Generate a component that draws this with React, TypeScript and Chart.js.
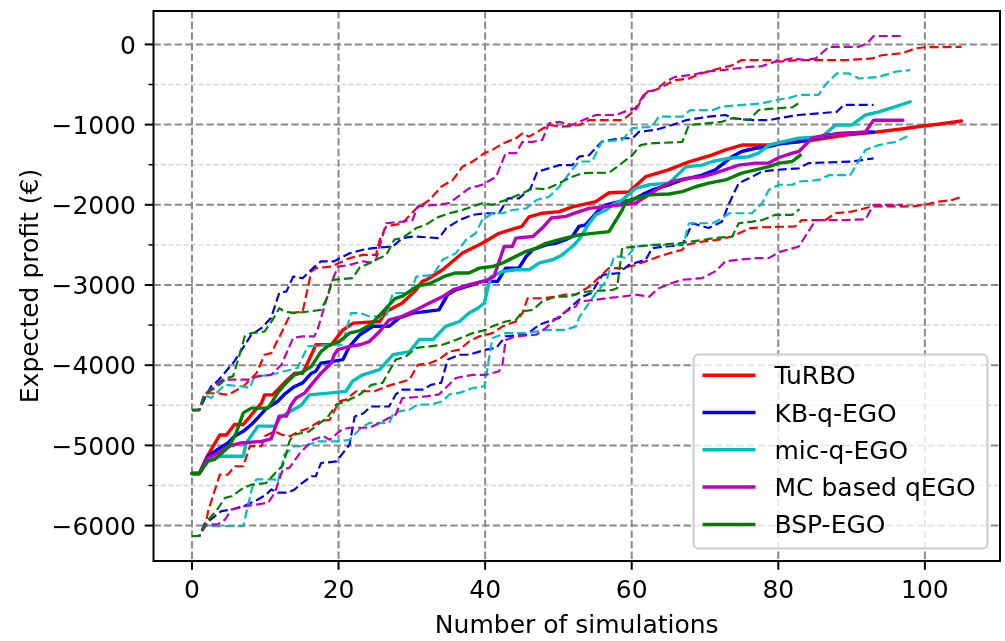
import React, { useEffect, useRef } from "react";
import { Chart, registerables } from "chart.js";

Chart.register(...registerables);

type P = [number, number];

// ---- axis ticks / labels ----
const xTicks: number[] = [0, 20, 40, 60, 80, 100];
const yTicks: number[] = [-6000, -5000, -4000, -3000, -2000, -1000, 0];
const yMinorTicks: number[] = [-5500, -4500, -3500, -2500, -1500, -500];
const xTitle = "Number of simulations";
const yTitle = "Expected profit (€)";
const methods: string[] = ["TuRBO", "KB-q-EGO", "mic-q-EGO", "MC based qEGO", "BSP-EGO"];
const colors: string[] = ["#ff0000", "#0000ff", "#00bfbf", "#bf00bf", "#008000"];

// ---- TuRBO ----
const turboMean: P[] = [[0,-5350],[1,-5350],[2,-5150],[3.8,-4870],[4.7,-4870],[5.8,-4740],[7,-4740],[8.5,-4575],[9.5,-4470],[9.9,-4370],[11,-4370],[12.6,-4220],[14,-4100],[15.1,-4100],[16.5,-3830],[16.9,-3745],[19,-3745],[19.4,-3700],[20.6,-3560],[22,-3475],[25.6,-3455],[26.5,-3330],[28.7,-3225],[30.6,-3060],[31.4,-2955],[32,-2935],[34.2,-2810],[36.9,-2600],[39.6,-2480],[41.9,-2355],[43.3,-2315],[45,-2270],[46,-2150],[47.8,-2105],[50.1,-2085],[51.9,-2025],[55.1,-1960],[56.9,-1850],[59.6,-1840],[61.9,-1650],[65,-1565],[67.8,-1465],[70.9,-1380],[72.8,-1315],[75,-1255],[78.7,-1255],[81.4,-1220],[84.6,-1195],[89.2,-1130],[92.7,-1100],[96.8,-1055],[99.5,-1020],[101.8,-995],[105,-955]];
const turboUpper: P[] = [[0,-4560],[1,-4560],[1.7,-4350],[3.5,-4350],[4.9,-4370],[7,-4265],[8.8,-4100],[9.9,-3870],[10.8,-3850],[12.4,-3560],[13.5,-3350],[15.1,-3330],[16.3,-2830],[16.9,-2790],[19,-2770],[21.5,-2665],[23.3,-2625],[25.1,-2625],[25.6,-2440],[26.5,-2270],[28.7,-2230],[30.6,-2045],[32.4,-1940],[34,-1775],[35.6,-1690],[36.9,-1525],[38.3,-1460],[39.9,-1355],[41,-1315],[42.4,-1235],[44.2,-1170],[45.1,-1110],[46,-1150],[47.6,-1065],[48.7,-1005],[50.5,-1025],[52.8,-1005],[54.2,-945],[58.7,-945],[60.5,-820],[61.9,-610],[63.7,-550],[65.9,-445],[67.8,-425],[69.6,-360],[71.9,-300],[73.7,-260],[75,-195],[79.6,-195],[80.1,-215],[82.8,-195],[89.2,-195],[92.8,-175],[94.1,-135],[96.9,-110],[98.7,-50],[100,-35],[105,-30]];
const turboLower: P[] = [[0,-6130],[1,-6130],[2,-5925],[2.2,-5820],[3.8,-5365],[4.9,-5365],[5.8,-5260],[7,-5260],[7.9,-5010],[9.5,-5010],[9.9,-4885],[11.3,-4825],[12.2,-4865],[13.4,-4885],[14.5,-4830],[16,-4780],[17.4,-4700],[18.8,-4680],[20.1,-4450],[21,-4430],[22.4,-4325],[24.9,-4325],[26.5,-4265],[29.7,-4180],[30.8,-3995],[32.4,-3975],[33.7,-3930],[35.1,-3830],[36.5,-3805],[37.8,-3705],[39.2,-3640],[41,-3600],[42.4,-3515],[44.2,-3455],[45.1,-3350],[45.8,-3165],[47.8,-3165],[49.6,-3145],[51,-3120],[52.4,-3120],[54.2,-3020],[56.9,-2790],[58.7,-2790],[60.5,-2750],[61.9,-2705],[63.7,-2645],[65.1,-2605],[66.9,-2560],[67.4,-2500],[69.6,-2460],[71.9,-2435],[73.7,-2395],[76.2,-2290],[77.8,-2280],[82.3,-2270],[83.2,-2190],[86.4,-2190],[87.8,-2105],[90,-2085],[92.8,-2020],[98.2,-2020],[100,-2000],[101.9,-1960],[103.7,-1940],[105,-1900]];

// ---- KB-q-EGO ----
const kbMean: P[] = [[0,-5350],[1,-5350],[2.2,-5135],[3.5,-5050],[4.9,-4970],[5.8,-4885],[7,-4825],[8.1,-4740],[9,-4655],[10.1,-4545],[11.7,-4450],[12.6,-4365],[14,-4265],[15.1,-4220],[16.3,-4100],[16.9,-4075],[17.6,-3975],[19.4,-3950],[20.6,-3930],[21.5,-3765],[22.9,-3620],[24.7,-3515],[26.9,-3515],[28.3,-3410],[30.1,-3350],[33.7,-3310],[34.9,-3120],[36,-3060],[38.3,-2995],[39.6,-2955],[41.7,-2955],[42.8,-2790],[44.6,-2790],[45.6,-2645],[46.5,-2560],[48.3,-2500],[49.6,-2480],[51,-2435],[51.9,-2395],[52.8,-2270],[53.7,-2250],[55.5,-2065],[56.5,-2000],[58.3,-1960],[60.1,-1940],[61.5,-1870],[62.8,-1815],[65.1,-1750],[66.9,-1690],[69.6,-1630],[71.4,-1565],[73.7,-1400],[75,-1335],[76.9,-1295],[78.7,-1275],[80.5,-1235],[82.8,-1215],[88.2,-1110],[91,-1100],[93,-1090]];
const kbUpper: P[] = [[0,-4560],[1,-4560],[2,-4365],[2.6,-4265],[3.5,-4200],[5.8,-3950],[6.5,-3850],[8.1,-3620],[9.5,-3535],[10.8,-3410],[11.9,-3100],[12.9,-3080],[13.8,-2895],[15.1,-2915],[16.5,-2790],[17.6,-2705],[19.4,-2705],[21.5,-2605],[23.3,-2560],[24.7,-2540],[27.4,-2520],[28.7,-2415],[30.3,-2395],[33.7,-2415],[34.7,-2290],[36.5,-2190],[38.3,-2125],[40.1,-2105],[41.9,-2105],[43.1,-1920],[44.6,-1920],[46.2,-1795],[47.1,-1590],[50.1,-1505],[51.9,-1505],[52.8,-1400],[54.2,-1380],[55.9,-1215],[58.3,-1170],[60.1,-1170],[61,-1090],[63.3,-1065],[65.5,-1005],[67.4,-945],[70.5,-900],[72.8,-880],[73.7,-920],[76.9,-945],[78.7,-945],[80.1,-920],[82.8,-880],[85.5,-860],[88,-840],[88.9,-755],[93,-755]];
const kbLower: P[] = [[0,-6130],[1,-6130],[1.7,-5985],[3.1,-5885],[4,-5820],[5.4,-5800],[7,-5760],[9,-5675],[10.1,-5615],[10.8,-5550],[11.7,-5590],[13.1,-5590],[14,-5550],[15.1,-5465],[16.3,-5385],[16.9,-5385],[17.6,-5220],[19.7,-5200],[21.5,-4990],[22.2,-4640],[23.4,-4600],[24.4,-4515],[26.9,-4515],[27.8,-4365],[28.7,-4305],[31.5,-4305],[32.6,-4245],[34,-4220],[34.9,-3930],[36.5,-3870],[37.8,-3870],[40.1,-3805],[41.5,-3785],[42.8,-3640],[45.6,-3620],[47.4,-3495],[49.2,-3435],[50.1,-3410],[51.5,-3290],[53.3,-3145],[54.5,-3100],[56,-2875],[58.3,-2850],[59.6,-2750],[61.9,-2685],[62.8,-2540],[64.6,-2520],[66.9,-2500],[68.3,-2230],[70.5,-2290],[72.3,-2210],[73.3,-1980],[74.6,-1730],[76,-1670],[77.8,-1585],[79.6,-1565],[82.8,-1545],[84.1,-1480],[90,-1460],[93,-1420]];

// ---- mic-q-EGO ----
const micMean: P[] = [[0,-5350],[1,-5350],[2.2,-5175],[4,-5135],[7,-5135],[7.4,-4970],[9,-4760],[11.3,-4760],[12.2,-4640],[14.9,-4500],[16,-4370],[19,-4345],[21,-4325],[21.9,-4200],[23.3,-4120],[25.6,-4055],[27.4,-3870],[29.7,-3830],[31,-3680],[32.9,-3680],[34.6,-3515],[36.5,-3455],[37.8,-3350],[39,-3290],[39.9,-3225],[40.3,-3060],[40.8,-2900],[42.4,-2830],[44.2,-2810],[46,-2810],[47.4,-2725],[49.2,-2685],[50.5,-2625],[51.9,-2520],[52.8,-2435],[54.2,-2230],[55.1,-2125],[56.5,-2065],[57.4,-2000],[58.7,-1940],[60.5,-1795],[62.4,-1750],[65.1,-1730],[67.4,-1525],[69.6,-1505],[71,-1460],[73.3,-1420],[76,-1400],[77.3,-1355],[78.7,-1255],[80.5,-1215],[82.8,-1170],[86,-1150],[87.8,-1005],[90,-1005],[91.9,-880],[93.7,-840],[96,-775],[98,-715]];
const micUpper: P[] = [[0,-4560],[1,-4560],[1.7,-4365],[2.6,-4410],[4.5,-4245],[7,-4265],[7.9,-4285],[8.5,-4140],[10.8,-4120],[12.6,-4075],[14.4,-4035],[15.8,-3765],[19,-3745],[20.5,-3745],[21.7,-3350],[22.9,-3350],[24.2,-3390],[26.5,-3390],[27.4,-3100],[29.8,-3100],[30.6,-2895],[32.9,-2875],[34.2,-2685],[36,-2605],[37.4,-2435],[38.7,-2355],[39.6,-2190],[41,-2105],[42.4,-2105],[43.7,-2065],[45.6,-2045],[47,-1940],[48.7,-1900],[50.1,-1775],[51.5,-1605],[52.8,-1460],[54.6,-1460],[55.9,-1215],[58.7,-1190],[60.1,-1045],[62.8,-1025],[63.7,-900],[66.9,-900],[68,-820],[71,-820],[72.3,-775],[75,-755],[77.8,-735],[79.6,-695],[81.4,-670],[82.8,-630],[85.5,-630],[86.4,-505],[88,-360],[89.6,-360],[91,-425],[93.7,-405],[96,-340],[98,-320]];
const micLower: P[] = [[0,-6130],[1,-6130],[1.7,-6005],[7,-6005],[8.3,-5490],[8.8,-5425],[11.3,-5425],[11.7,-5465],[12.6,-5115],[14,-5010],[15.4,-5010],[17.2,-4950],[19.9,-4950],[21.5,-4930],[22.9,-4800],[24.2,-4720],[26.9,-4720],[27.4,-4615],[28.3,-4575],[29.7,-4555],[30.8,-4490],[32.6,-4490],[34.2,-4450],[35.1,-4365],[36.5,-4345],[38.3,-4285],[39.9,-4265],[41,-3660],[42.8,-3600],[45.6,-3600],[48.3,-3560],[51,-3560],[52.4,-3515],[52.8,-3410],[55.1,-3100],[56.5,-2955],[57.6,-2645],[58.3,-2645],[59.2,-2665],[60.5,-2520],[62.8,-2500],[65.9,-2500],[67.1,-2480],[67.8,-2230],[71,-2230],[71.9,-2190],[73.3,-2105],[76.4,-2105],[77.8,-1980],[78.7,-1815],[79.1,-1795],[80.1,-1750],[81.9,-1750],[82.8,-1710],[85.5,-1690],[86.9,-1630],[89.8,-1630],[91.9,-1315],[93.7,-1255],[96,-1215],[98,-1130]];

// ---- MC based qEGO ----
const mcMean: P[] = [[0,-5350],[1,-5350],[2.2,-5155],[3.5,-5095],[5.1,-5010],[6.7,-4970],[9.5,-4950],[10.8,-4920],[11.9,-4635],[12.9,-4635],[13.5,-4500],[14.2,-4410],[15.4,-4345],[16.5,-4220],[17.6,-4100],[19,-3975],[19.4,-3870],[19.9,-3805],[21.5,-3765],[22.9,-3745],[24.2,-3705],[25.6,-3580],[26.9,-3435],[28.7,-3390],[30.6,-3310],[32.4,-3225],[34.2,-3145],[35.6,-3060],[37.8,-2995],[40.1,-2945],[41.2,-2895],[42.6,-2520],[43.7,-2520],[44.2,-2415],[46.5,-2395],[47.8,-2290],[49,-2165],[51,-2145],[52.8,-2085],[54.2,-2045],[60.5,-1980],[61.9,-1900],[63.7,-1795],[65.5,-1710],[67.4,-1670],[69.6,-1650],[71.4,-1605],[74.6,-1505],[76.9,-1480],[78.7,-1480],[80.1,-1410],[81.9,-1355],[82.8,-1335],[84.6,-1170],[86.4,-1130],[89.2,-1110],[91.9,-1090],[93,-945],[97,-945]];
const mcUpper: P[] = [[0,-4560],[1,-4560],[1.7,-4365],[4.2,-4180],[7.6,-4180],[9,-4140],[10.8,-4120],[12.2,-3995],[13.8,-3660],[15.1,-3640],[16.7,-3640],[17.2,-3540],[19,-2980],[19.9,-2770],[21.5,-2750],[23.3,-2705],[24.5,-2720],[25.1,-2685],[26.5,-2230],[28.7,-2210],[30.1,-2190],[30.8,-2020],[33.3,-2000],[35.1,-1980],[37.8,-1795],[39.6,-1750],[41.5,-1650],[42.8,-1355],[44.2,-1355],[45.1,-1215],[46.5,-1215],[47.8,-1190],[48.7,-985],[50.1,-965],[51.9,-1005],[53.3,-945],[55.1,-880],[57.8,-880],[59.6,-820],[60.5,-795],[61.9,-590],[63.3,-570],[64.6,-465],[65.9,-405],[68.3,-380],[70.1,-340],[72.3,-320],[74.2,-300],[76,-280],[77.8,-270],[79.6,-215],[81.9,-175],[83.7,-195],[85.1,-175],[86.9,-30],[91,-30],[92.1,10],[93,105],[97,105]];
const mcLower: P[] = [[0,-6130],[1,-6130],[2,-5985],[3.5,-5985],[4.5,-5925],[5.4,-5800],[7,-5760],[9,-5735],[10.4,-5715],[11.3,-5590],[12.4,-5300],[13.3,-5280],[14.7,-5100],[16.5,-4930],[17.9,-4885],[18.8,-4930],[20.4,-4805],[21.5,-4780],[24.2,-4780],[25.6,-4720],[26.9,-4655],[27.8,-4615],[28.7,-4410],[31.9,-4390],[33.7,-4365],[34.6,-4285],[36,-4160],[38.3,-4120],[40.1,-4120],[41.9,-4075],[42.4,-3975],[42.8,-3685],[44.2,-3640],[47,-3620],[48.3,-3535],[49.2,-3455],[51,-3330],[52.4,-3265],[52.8,-3205],[55.1,-3185],[56.5,-3165],[58.7,-3145],[60.5,-3120],[62.4,-3145],[63.7,-3040],[65.5,-2975],[66.9,-2935],[69.6,-2915],[71.4,-2830],[72.8,-2705],[74.6,-2685],[76.9,-2665],[78.7,-2665],[80.1,-2590],[82.8,-2520],[85.1,-2190],[89.2,-2190],[91.9,-2180],[93,-2000],[97,-2000]];

// ---- BSP-EGO ----
const bspMean: P[] = [[0,-5350],[1,-5350],[2.2,-5195],[3.1,-5175],[5.1,-5010],[6,-4850],[7,-4595],[8.1,-4535],[10.4,-4535],[11.7,-4345],[12.6,-4245],[14,-4120],[14.9,-4095],[16.3,-4015],[17.6,-3830],[18.5,-3765],[19.4,-3725],[20.1,-3705],[21.5,-3600],[22.9,-3570],[24.5,-3485],[27.7,-3170],[28.7,-3140],[30.8,-3010],[32.4,-2985],[34.5,-2890],[36,-2850],[37.8,-2850],[39.2,-2790],[41,-2770],[42.4,-2725],[43.7,-2665],[45.6,-2580],[47,-2540],[48.3,-2480],[50.1,-2435],[51.9,-2395],[52.8,-2375],[56.9,-2335],[58.7,-2065],[59.2,-1960],[60.5,-1920],[62.4,-1875],[65.1,-1865],[66.9,-1835],[68.7,-1775],[70.5,-1730],[72.8,-1690],[75,-1605],[76.9,-1565],[78.7,-1525],[80.1,-1480],[81.9,-1460],[83,-1380]];
const bspUpper: P[] = [[0,-4555],[1,-4555],[1.5,-4430],[2,-4345],[3.5,-4265],[4.7,-4160],[5.6,-4140],[6.3,-3930],[7.2,-3640],[8.1,-3600],[9.9,-3580],[11,-3435],[11.9,-3290],[12.6,-3330],[14,-3350],[16,-3330],[17.6,-3310],[18.5,-3145],[19.2,-2935],[21.9,-2915],[22.9,-2780],[24.2,-2730],[25.1,-2685],[26.5,-2625],[27.6,-2435],[28.7,-2415],[30.6,-2290],[31.9,-2250],[33.3,-2165],[35.1,-2105],[36.9,-2065],[38.3,-2020],[39.6,-1980],[41,-2000],[42.8,-1940],[44.6,-1875],[45.6,-1835],[46.5,-1795],[48.3,-1805],[50.1,-1730],[51.9,-1650],[53.3,-1605],[56.9,-1600],[58.3,-1505],[60.1,-1380],[61.2,-1255],[62.4,-1235],[66.9,-1215],[67.8,-1005],[70.1,-985],[72.3,-965],[73.7,-920],[76,-945],[77.3,-820],[79.1,-800],[81.9,-785],[82.9,-725]];
const bspLower: P[] = [[0,-6130],[1,-6130],[2,-5950],[3.3,-5820],[4.5,-5655],[5.4,-5635],[7,-5530],[8.1,-5490],[10.1,-5470],[11.4,-5340],[12.4,-5250],[12.9,-5090],[13.3,-4950],[13.8,-4870],[16,-4825],[16.9,-4760],[18.5,-4650],[19.7,-4490],[21,-4450],[22.9,-4365],[24.5,-4245],[26,-4220],[27.8,-3930],[29.2,-3890],[30.6,-3785],[32.4,-3765],[34.2,-3745],[36,-3685],[38.3,-3600],[40.1,-3560],[41,-3515],[42.8,-3455],[44.2,-3435],[45.1,-3330],[46.5,-3310],[47.8,-3205],[49.6,-3145],[51.5,-3145],[52.8,-3100],[54.2,-3080],[57.4,-3060],[58,-3040],[58.7,-2540],[60.5,-2520],[63.3,-2500],[66.4,-2480],[71.4,-2415],[73.7,-2395],[74.6,-2230],[76.4,-2210],[77.8,-2190],[79.6,-2125],[81.9,-2125],[82.9,-2055]];

const seriesGroups: P[][][] = [
  [turboMean, turboUpper, turboLower],
  [kbMean, kbUpper, kbLower],
  [micMean, micUpper, micLower],
  [mcMean, mcUpper, mcLower],
  [bspMean, bspUpper, bspLower],
];

const FONT_FAMILY = "'DejaVu Sans', 'Liberation Sans', sans-serif";
const FONT_PX = 25;

function fmtY(v: number): string {
  return v < 0 ? "\u2212" + String(Math.abs(v)) : String(v);
}

const decorPlugin = {
  id: "decor",
  beforeDatasetsDraw(chart: any) {
    const { ctx, chartArea: a } = chart;
    const xs = chart.scales.x;
    const ys = chart.scales.y;
    ctx.save();
    ctx.lineCap = "butt";
    // minor horizontal grid
    ctx.strokeStyle = "#d3d3d3";
    ctx.lineWidth = 1.4;
    ctx.setLineDash([5, 2.5]);
    for (const v of yMinorTicks) {
      const py = ys.getPixelForValue(v);
      ctx.beginPath();
      ctx.moveTo(a.left, py);
      ctx.lineTo(a.right, py);
      ctx.stroke();
    }
    // major grid
    ctx.strokeStyle = "#8a8a8a";
    ctx.lineWidth = 2;
    ctx.setLineDash([7.4, 3.2]);
    for (const v of yTicks) {
      const py = ys.getPixelForValue(v);
      ctx.beginPath();
      ctx.moveTo(a.left, py);
      ctx.lineTo(a.right, py);
      ctx.stroke();
    }
    for (const v of xTicks) {
      const px = xs.getPixelForValue(v);
      ctx.beginPath();
      ctx.moveTo(px, a.top);
      ctx.lineTo(px, a.bottom);
      ctx.stroke();
    }
    ctx.restore();
  },
  afterDatasetsDraw(chart: any) {
    const { ctx, chartArea: a } = chart;
    const xs = chart.scales.x;
    const ys = chart.scales.y;
    ctx.save();
    ctx.setLineDash([]);
    // frame
    ctx.strokeStyle = "#000";
    ctx.lineWidth = 2;
    ctx.strokeRect(a.left, a.top, a.right - a.left, a.bottom - a.top);
    // major ticks
    ctx.lineWidth = 2;
    for (const v of xTicks) {
      const px = xs.getPixelForValue(v);
      ctx.beginPath();
      ctx.moveTo(px, a.bottom);
      ctx.lineTo(px, a.bottom + 8.75);
      ctx.stroke();
    }
    for (const v of yTicks) {
      const py = ys.getPixelForValue(v);
      ctx.beginPath();
      ctx.moveTo(a.left, py);
      ctx.lineTo(a.left - 8.75, py);
      ctx.stroke();
    }
    ctx.lineWidth = 1.5;
    for (const v of yMinorTicks) {
      const py = ys.getPixelForValue(v);
      ctx.beginPath();
      ctx.moveTo(a.left, py);
      ctx.lineTo(a.left - 5, py);
      ctx.stroke();
    }
    // tick labels
    ctx.fillStyle = "#000";
    ctx.font = `${FONT_PX}px ${FONT_FAMILY}`;
    ctx.textBaseline = "alphabetic";
    ctx.textAlign = "center";
    for (const v of xTicks) {
      ctx.fillText(String(v), xs.getPixelForValue(v), a.bottom + 36.5);
    }
    ctx.textAlign = "right";
    for (const v of yTicks) {
      ctx.fillText(fmtY(v), a.left - 17.5, ys.getPixelForValue(v) + 9.3);
    }
    // axis titles
    ctx.textAlign = "center";
    ctx.fillText(xTitle, (a.left + a.right) / 2, a.bottom + 72);
    ctx.save();
    ctx.translate(38, (a.top + a.bottom) / 2);
    ctx.rotate(-Math.PI / 2);
    ctx.fillText(yTitle, 0, 0);
    ctx.restore();

    // legend (lower right)
    const bx0 = a.right - 12.5 - 294;
    const by1 = a.bottom - 12.5;
    const by0 = by1 - 194;
    const bw = 294;
    const bh = by1 - by0;
    const r = 5;
    ctx.beginPath();
    ctx.moveTo(bx0 + r, by0);
    ctx.lineTo(bx0 + bw - r, by0);
    ctx.arcTo(bx0 + bw, by0, bx0 + bw, by0 + r, r);
    ctx.lineTo(bx0 + bw, by0 + bh - r);
    ctx.arcTo(bx0 + bw, by0 + bh, bx0 + bw - r, by0 + bh, r);
    ctx.lineTo(bx0 + r, by0 + bh);
    ctx.arcTo(bx0, by0 + bh, bx0, by0 + bh - r, r);
    ctx.lineTo(bx0, by0 + r);
    ctx.arcTo(bx0, by0, bx0 + r, by0, r);
    ctx.closePath();
    ctx.fillStyle = "rgba(255,255,255,0.8)";
    ctx.fill();
    ctx.strokeStyle = "#cccccc";
    ctx.lineWidth = 2;
    ctx.stroke();
    ctx.textAlign = "left";
    ctx.fillStyle = "#000";
    methods.forEach((name, i) => {
      const cy = by0 + 20.7 + i * 37.3;
      ctx.strokeStyle = colors[i];
      ctx.lineWidth = 3.5;
      ctx.beginPath();
      ctx.moveTo(bx0 + 9, cy);
      ctx.lineTo(bx0 + 62, cy);
      ctx.stroke();
      ctx.fillText(name, bx0 + 81, cy + 9);
    });
    ctx.restore();
  },
};

export default function App() {
  const ref = useRef<HTMLCanvasElement | null>(null);
  useEffect(() => {
    if (!ref.current) return;
    const datasets: any[] = [];
    const total = seriesGroups.length * 3;
    seriesGroups.forEach((grp, mi) => {
      grp.forEach((pts, k) => {
        const idx = datasets.length;
        datasets.push({
          label: k === 0 ? methods[mi] : methods[mi] + (k === 1 ? " upper" : " lower"),
          data: pts.map(([x, y]) => ({ x, y })),
          borderColor: colors[mi],
          backgroundColor: colors[mi],
          borderWidth: k === 0 ? 3.4 : 2.2,
          borderDash: k === 0 ? [] : [9, 4],
          borderJoinStyle: "round",
          borderCapStyle: k === 0 ? "round" : "butt",
          pointRadius: 0,
          fill: false,
          tension: 0,
          order: total - idx,
        });
      });
    });
    const chart = new Chart(ref.current, {
      type: "line",
      data: { datasets },
      options: {
        animation: false,
        responsive: false,
        maintainAspectRatio: false,
        layout: { padding: { left: 153.5, right: 5, top: 11, bottom: 80 } },
        plugins: { legend: { display: false }, tooltip: { enabled: false } },
        scales: {
          x: { type: "linear", display: false, min: -5.25, max: 110.25 },
          y: { type: "linear", display: false, min: -6441.75, max: 416.75 },
        },
      },
      plugins: [decorPlugin],
    } as any);
    return () => chart.destroy();
  }, []);
  return (
    <div style={{ position: "absolute", left: 0, top: 0, width: 1005, height: 641, background: "#fff" }}>
      <canvas ref={ref} width={1005} height={641} style={{ width: 1005, height: 641, display: "block" }} />
    </div>
  );
}
